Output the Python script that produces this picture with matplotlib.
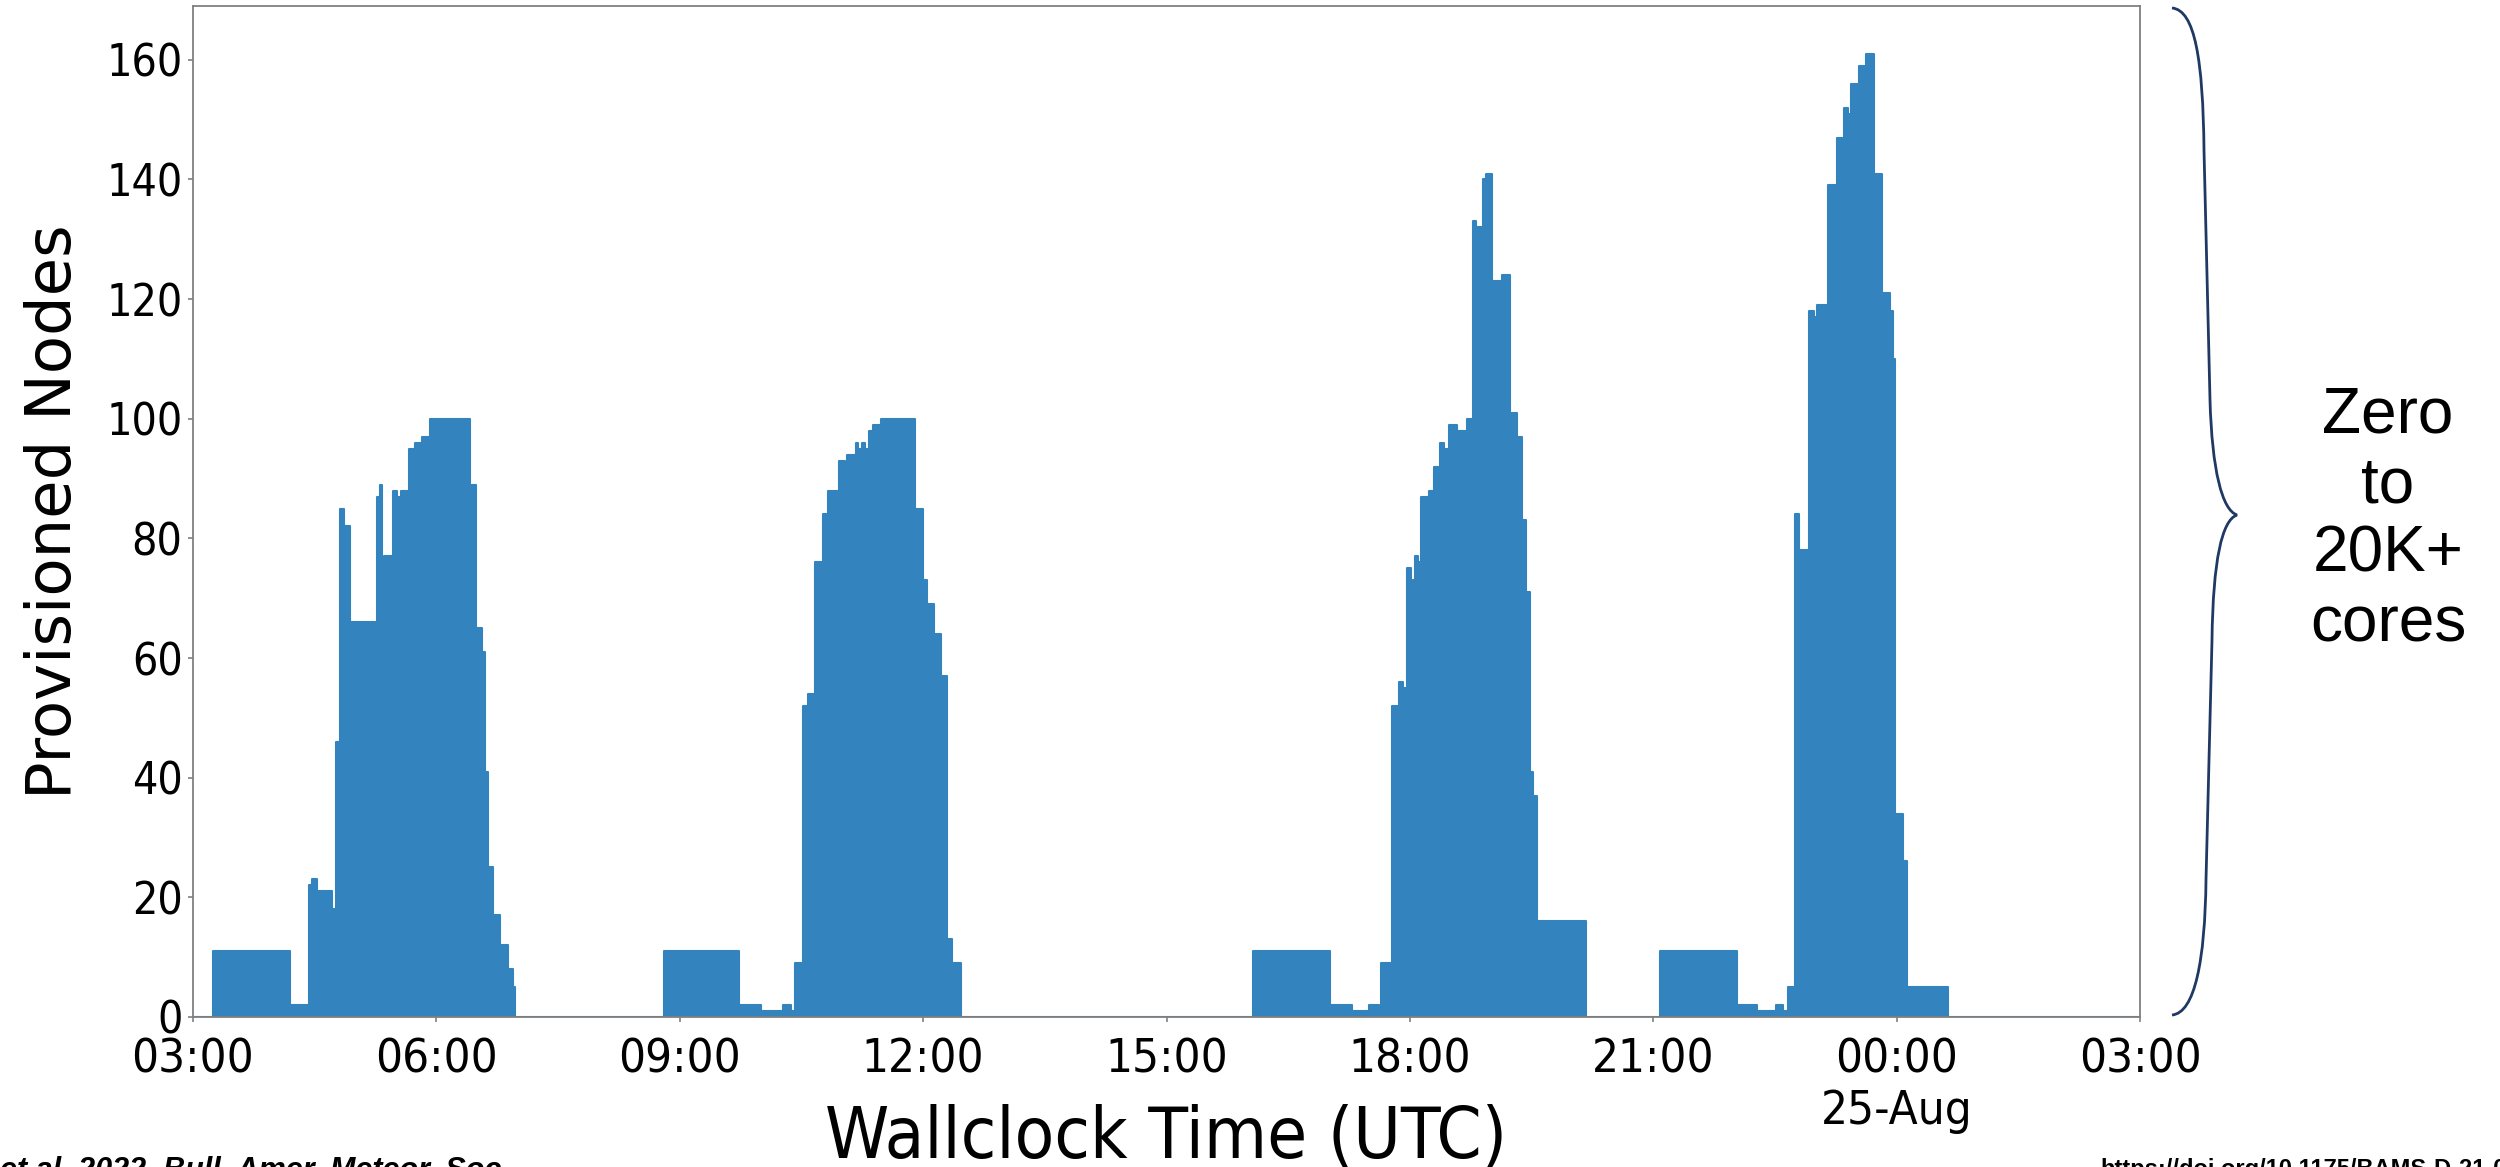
import matplotlib
matplotlib.use('Agg')
import matplotlib.pyplot as plt
import matplotlib.dates as mdates
from matplotlib.path import Path
from matplotlib.patches import PathPatch
import pandas as pd

# provisioned node count, piecewise constant from each time until the next
times = [
    '08-24 03:00', '08-24 03:15', '08-24 04:12', '08-24 04:26', '08-24 04:28', '08-24 04:32',
    '08-24 04:43', '08-24 04:46', '08-24 04:49', '08-24 04:52', '08-24 04:56', '08-24 05:16',
    '08-24 05:18', '08-24 05:20', '08-24 05:21', '08-24 05:28', '08-24 05:31', '08-24 05:34',
    '08-24 05:40', '08-24 05:44', '08-24 05:49', '08-24 05:55', '08-24 06:25', '08-24 06:29',
    '08-24 06:34', '08-24 06:36', '08-24 06:38', '08-24 06:42', '08-24 06:47', '08-24 06:53',
    '08-24 06:57', '08-24 06:58',
    '08-24 08:48', '08-24 09:44', '08-24 10:00', '08-24 10:16', '08-24 10:22', '08-24 10:25',
    '08-24 10:31', '08-24 10:34', '08-24 10:35', '08-24 10:40', '08-24 10:46', '08-24 10:50',
    '08-24 10:58', '08-24 11:02', '08-24 11:04', '08-24 11:10', '08-24 11:12', '08-24 11:15',
    '08-24 11:17', '08-24 11:20', '08-24 11:23', '08-24 11:29', '08-24 11:54', '08-24 12:00',
    '08-24 12:03', '08-24 12:08', '08-24 12:13', '08-24 12:18', '08-24 12:21', '08-24 12:28',
    '08-24 16:04', '08-24 17:01', '08-24 17:17', '08-24 17:30', '08-24 17:37', '08-24 17:39',
    '08-24 17:47', '08-24 17:52', '08-24 17:55', '08-24 17:58', '08-24 18:01', '08-24 18:04',
    '08-24 18:06', '08-24 18:08', '08-24 18:14', '08-24 18:18', '08-24 18:22', '08-24 18:25',
    '08-24 18:29', '08-24 18:35', '08-24 18:42', '08-24 18:47', '08-24 18:49', '08-24 18:54',
    '08-24 18:56', '08-24 19:01', '08-24 19:08', '08-24 19:14', '08-24 19:19', '08-24 19:23',
    '08-24 19:26', '08-24 19:29', '08-24 19:31', '08-24 19:34', '08-24 20:10',
    '08-24 21:05', '08-24 22:02', '08-24 22:17', '08-24 22:31', '08-24 22:36', '08-24 22:40',
    '08-24 22:45', '08-24 22:48', '08-24 22:55', '08-24 22:59', '08-24 23:01', '08-24 23:09',
    '08-24 23:16', '08-24 23:21', '08-24 23:24', '08-24 23:26', '08-24 23:32', '08-24 23:37',
    '08-24 23:43', '08-24 23:49', '08-24 23:55', '08-24 23:57', '08-24 23:59', '08-25 00:05',
    '08-25 00:08', '08-25 00:38', '08-25 03:00',
]
nodes = [
    0, 11, 2, 22, 23, 21,
    18, 46, 85, 82, 66, 87,
    89, 76, 77, 88, 87, 88,
    95, 96, 97, 100, 89, 65,
    61, 41, 25, 17, 12, 8,
    5, 0,
    11, 2, 1, 2, 1, 9,
    52, 50, 54, 76, 84, 88,
    93, 91, 94, 96, 95, 96,
    95, 98, 99, 100, 85, 73,
    69, 64, 57, 13, 9, 0,
    11, 2, 1, 2, 1, 9,
    52, 56, 55, 75, 73, 77,
    76, 87, 88, 92, 96, 95,
    99, 98, 100, 133, 132, 140,
    141, 123, 124, 101, 97, 83,
    71, 41, 37, 16, 0,
    11, 2, 1, 2, 1, 5,
    84, 78, 118, 117, 119, 139,
    147, 152, 151, 156, 159, 161,
    141, 121, 118, 110, 34, 26,
    5, 0, 0,
]
year = '2021'
x_start = year + '-08-24 03:00'
x_end = year + '-08-25 03:00'

blue = '#3283be'
spine_grey = '#808080'


def time_label(x, pos=None):
    d = mdates.num2date(x)
    label = d.strftime('%H:%M')
    if d.hour == 0:
        label += '\n' + d.strftime('%d-%b')
    return label


def draw_brace(fig, x0, y_top, y_bot, y_tip, x_tip, x_mid):
    # curly brace in image pixels (y down), converted to figure fraction
    W, H = fig.get_size_inches() * fig.dpi
    pts = [
        (x0, y_top),
        (x0 + 23, y_top + 2), (x_mid - 1, y_top + 52), (x_mid, y_top + 142),
        (x_mid + 6, y_tip - 115),
        (x_mid + 8, y_tip - 45), (x_mid + 18, y_tip - 5), (x_tip, y_tip),
        (x_mid + 18, y_tip + 5), (x_mid + 9, y_tip + 45), (x_mid + 8, y_tip + 125),
        (x_mid + 2, y_bot - 135),
        (x_mid + 1, y_bot - 55), (x0 + 23, y_bot - 2), (x0, y_bot),
    ]
    codes = [Path.MOVETO,
             Path.CURVE4, Path.CURVE4, Path.CURVE4,
             Path.LINETO,
             Path.CURVE4, Path.CURVE4, Path.CURVE4,
             Path.CURVE4, Path.CURVE4, Path.CURVE4,
             Path.LINETO,
             Path.CURVE4, Path.CURVE4, Path.CURVE4]
    verts = [(px / W, 1 - py / H) for px, py in pts]
    patch = PathPatch(Path(verts, codes), transform=fig.transFigure,
                      facecolor='none', edgecolor='#1f3864', lw=2)
    fig.patches.append(patch)


if __name__ == '__main__':
    t = pd.to_datetime([year + '-' + s for s in times])

    fig = plt.figure(figsize=(25, 11.67), dpi=100)
    ax = fig.add_axes([193 / 2500, 1 - 1017 / 1167, 1947 / 2500, 1011 / 1167])

    ax.fill_between(t, nodes, step='post', color=blue, lw=0)
    ax.plot(t, nodes, drawstyle='steps-post', color=blue, lw=1.5)

    ax.set_xlim(pd.Timestamp(x_start), pd.Timestamp(x_end))
    ax.set_ylim(0, 169)
    ax.set_yticks(range(0, 161, 20))

    ax.xaxis.set_major_locator(mdates.HourLocator(byhour=range(0, 24, 3)))
    ax.xaxis.set_major_formatter(plt.FuncFormatter(time_label))

    for side in ax.spines.values():
        side.set_color(spine_grey)
        side.set_linewidth(1.3)
    ax.tick_params(colors=spine_grey, length=3.5, width=1.2, labelcolor='black')
    ax.tick_params(axis='x', pad=11)
    ax.tick_params(axis='y', pad=4)

    for lab in ax.get_xticklabels():
        lab.set_fontsize(34)
        lab.set_fontstretch('condensed')
    for lab in ax.get_yticklabels():
        lab.set_fontsize(32)
        lab.set_fontstretch('condensed')

    ax.set_xlabel('Wallclock Time (UTC)', fontsize=52, fontstretch='condensed')
    ax.xaxis.set_label_coords(0.5, -0.086)
    ax.set_ylabel('Provisioned Nodes', fontsize=45)
    ax.yaxis.set_label_coords(-0.056, 0.5)

    draw_brace(fig, 2172, 8, 1015, 515, 2237, 2204)
    fig.text(2388 / 2500, 1 - 520 / 1167, 'Zero\nto\n20K+\ncores', family='Liberation Sans',
             fontsize=46, ha='center', va='center', linespacing=1.2)

    # citation lines cut off by the bottom edge of the slide
    fig.text(0 / 2500, 1 - 1179 / 1167, 'et al. 2022, Bull. Amer. Meteor. Soc.',
             family='Liberation Sans', fontsize=22, fontweight='bold', fontstyle='italic',
             va='baseline', ha='left')
    fig.text(2100 / 2500, 1 - 1176 / 1167, 'https://doi.org/10.1175/BAMS-D-21-0166.1',
             family='Liberation Sans', fontsize=17, fontweight='bold',
             va='baseline', ha='left')

    fig.savefig('out.png', dpi=100)
